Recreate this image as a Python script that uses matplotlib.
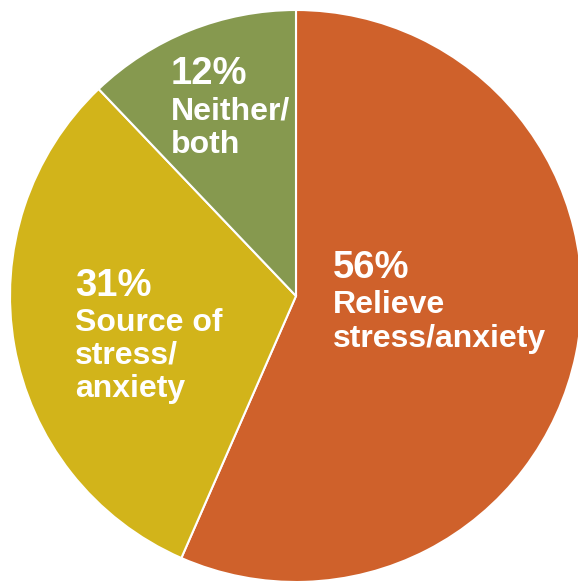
import matplotlib.pyplot as plt

labels = ['Relieve\nstress/anxiety', 'Source of\nstress/\nanxiety', 'Neither/\nboth']
shares = [56, 31, 12]
colors = ['#CF612B', '#D2B41A', '#86994F']

plt.rcParams['font.family'] = ['Liberation Sans', 'DejaVu Sans']

W, H = 578, 582
cx, cy, r = 296, 296, 286

def px(x, y):
    return (x - cx) / r, (cy - y) / r

fig = plt.figure(figsize=(W / 100, H / 100), dpi=100)
ax = fig.add_axes([0, 0, 1, 1])
ax.pie(shares, colors=colors, startangle=90, counterclock=False, radius=1,
       normalize=True, wedgeprops=dict(edgecolor='white', linewidth=1.5))
ax.set_xlim(-cx / r, (W - cx) / r)
ax.set_ylim((cy - H) / r, cy / r)
ax.set_aspect('auto')
ax.axis('off')

# label anchors: left x, baseline of pct line, baselines of label lines
anchors = [(333, 278, [313, 347]), (75, 296, [331, 364, 397]), (171, 84, [120, 153])]
for (x, yb, lines), lab, s in zip(anchors, labels, shares):
    tx, ty = px(x, yb)
    ax.text(tx, ty, f'{s}%', color='white', fontsize=27.5, fontweight='bold',
            ha='left', va='baseline')
    for ln, b in zip(lab.split('\n'), lines):
        tx, ty = px(x, b)
        ax.text(tx, ty, ln, color='white', fontsize=23, fontweight='bold',
                ha='left', va='baseline')

fig.savefig('out.png', dpi=100)
